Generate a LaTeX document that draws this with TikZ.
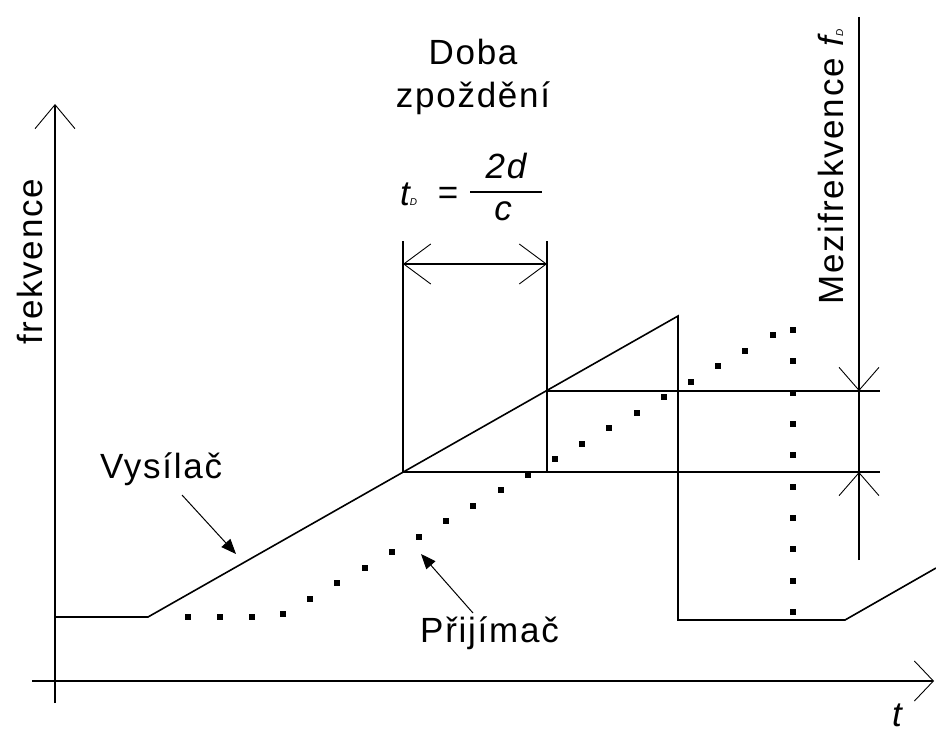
\documentclass[tikz,border=0pt]{standalone}
\usepackage{fontspec}
\setmainfont{Liberation Sans}[LetterSpace=5]
\usetikzlibrary{arrows.meta}
\tikzset{
  lbl/.style={font=\fontsize{35}{40}\selectfont,inner sep=0pt},
  curve/.style={line width=1.6pt},
  thin/.style={line width=1.4pt},
  barb/.style={-{Straight Barb[length=#1,width=40pt,line width=0.9pt]}},
  barb/.default=24pt,
  pointer/.style={line width=1pt,-{Triangle[length=15pt,width=12pt]}}
}
\newcommand{\smallsub}[1]{{\fontsize{10}{10}\selectfont #1}}
\begin{document}
\begin{tikzpicture}[x=1pt,y=-1pt]
\useasboundingbox (0,0) rectangle (936,733);
% axes
\coordinate (ybot) at (55,703);
\coordinate (ytop) at (55,104);
\coordinate (xleft) at (32,681);
\coordinate (xright) at (934,681);
\draw[thin,barb=24pt] (ybot) -- (ytop);
\draw[thin,barb=19pt] (xleft) -- (xright);
\node[lbl,anchor=base] (tlab) at (897,726) {\itshape t};
\node[lbl,rotate=90,anchor=base west] (freq) at (42,345) {frekvence};
% transmitter
\coordinate (s0) at (55,617);
\coordinate (s1) at (148,617);
\coordinate (s2) at (678,316);
\coordinate (s3) at (678,620);
\coordinate (s4) at (845,620);
\coordinate (s5) at (936,568);
\coordinate (pa) at (403,472);
\coordinate (pb) at (547,391);
\draw[curve] (s0) -- (s1) -- (s2) -- (s3) -- (s4) -- (s5);
% receiver
\foreach \i in {0,1,2}{\fill (188+32*\i,617) +(-3,-3) rectangle +(3,3);}
\foreach \i in {0,...,18}{\fill (283+27.2*\i,614-15.5*\i) +(-3,-3) rectangle +(3,3);}
\foreach \i in {0,...,9}{\fill (793,330+31.33*\i) +(-3,-3) rectangle +(3,3);}
% delay
\coordinate (da) at (403,241);
\coordinate (db) at (547,241);
\coordinate (dl) at (403,264);
\coordinate (dr) at (547,264);
\coordinate (pc) at (547,472);
\draw[thin] (da) -- (pa);
\draw[thin] (db) -- (pc);
\draw[thin,{Straight Barb[length=27pt,width=40pt,line width=0.9pt]}-{Straight Barb[length=27pt,width=40pt,line width=0.9pt]}] (dl) -- (dr);
\node[lbl,anchor=base] (doba) at (473,65) {Doba};
\node[lbl,anchor=base] (zpozd) at (473,108) {zpoždění};
\node[lbl,anchor=base west] (tD) at (400,205) {\itshape t\smallsub{D}};
\node[lbl,anchor=base] (eq) at (448,204) {=};
\node[lbl,anchor=base] (num) at (506,178) {\itshape 2d};
\node[lbl,anchor=base] (den) at (503,220) {\itshape c};
\coordinate (fl) at (470,192);
\coordinate (fr) at (542,192);
\draw[line width=2.6pt] (fl) -- (fr);
% intermediate frequency
\coordinate (ha) at (880,391);
\coordinate (hb) at (880,472);
\draw[thin] (pb) -- (ha);
\draw[thin] (pa) -- (hb);
\coordinate (mtop) at (859,17);
\coordinate (mbot) at (859,560);
\coordinate (m1) at (859,391);
\coordinate (m2) at (859,472);
\draw[thin] (m1) -- (m2);
\draw[thin,barb=23pt] (mtop) -- (m1);
\draw[thin,barb=23pt] (mbot) -- (m2);
\node[lbl,rotate=90,anchor=base west] (mezi) at (843,305) {Mezifrekvence \itshape f\smallsub{D}};
% labels
\node[lbl,anchor=base west] (vys) at (100,478) {Vysílač};
\node[lbl,anchor=base west] (prij) at (420,642) {Přijímač};
\coordinate (va) at (182,495);
\coordinate (vb) at (236,554);
\coordinate (ra) at (473,613);
\coordinate (rb) at (421,554);
\draw[pointer] (va) -- (vb);
\draw[pointer] (ra) -- (rb);
\end{tikzpicture}
\end{document}
